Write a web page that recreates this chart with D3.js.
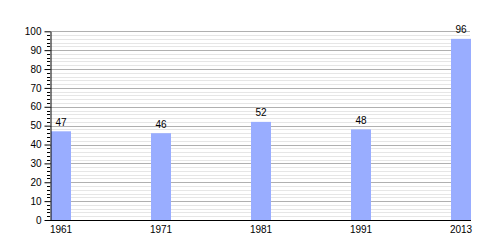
<!DOCTYPE html>
<html><head><meta charset="utf-8">
<script src="https://cdn.jsdelivr.net/npm/d3@7"></script>
<style>body{margin:0;background:#fff;} svg{display:block;font-family:"Liberation Sans",Arial,sans-serif;}</style>
</head><body>
<script>
const categories = ["1961","1971","1981","1991","2013"];
const values = [47,46,52,48,96];
const yTicks = [0,10,20,30,40,50,60,70,80,90,100];

const W=500,H=250;
const svg=d3.select("body").append("svg").attr("width",W).attr("height",H);
const x=d3.scaleBand().domain(categories).range([50,470]).paddingInner(0.8).paddingOuter(0);
const y=d3.scaleLinear().domain([0,100]).range([220,31.3]);

const minor=d3.range(0,101,2).filter(v=>v%10!==0);
svg.append("g").selectAll("line").data(minor).join("line")
 .attr("x1",50).attr("x2",470).attr("y1",d=>Math.round(y(d))+0.5).attr("y2",d=>Math.round(y(d))+0.5)
 .attr("stroke","#e6e6e6").attr("stroke-width",1);
svg.append("g").selectAll("line").data(yTicks.filter(v=>v>0)).join("line")
 .attr("x1",50).attr("x2",470).attr("y1",d=>Math.round(y(d))+0.5).attr("y2",d=>Math.round(y(d))+0.5)
 .attr("stroke","#b0b0b0").attr("stroke-width",1);

svg.append("g").selectAll("rect").data(values).join("rect")
 .attr("x",(d,i)=>x(categories[i])+1).attr("width",x.bandwidth())
 .attr("y",d=>y(d)).attr("height",d=>220-y(d)).attr("fill","#99adff");

svg.append("g").selectAll("text").data(values).join("text")
 .attr("x",(d,i)=>x(categories[i])+1+x.bandwidth()/2).attr("y",d=>y(d)-5.5)
 .attr("text-anchor","middle").attr("font-size",10).attr("fill","#000").text(d=>d);

// y axis
const ya=svg.append("g").attr("transform","translate(50.5,0)")
 .call(d3.axisLeft(y).tickValues(yTicks).tickSize(6).tickPadding(3).tickSizeOuter(0));
ya.selectAll("text").attr("font-size",10).attr("fill","#000").attr("font-family","Liberation Sans,Arial,sans-serif");
ya.selectAll("line,path").attr("stroke","#000");
svg.append("g").selectAll("line").data(minor).join("line")
 .attr("x1",47).attr("x2",50).attr("y1",d=>Math.round(y(d))+0.5).attr("y2",d=>Math.round(y(d))+0.5)
 .attr("stroke","#000");

// x axis
const xa=svg.append("g").attr("transform","translate(1,220.5)")
 .call(d3.axisBottom(x).tickSize(0).tickPadding(5));
xa.select("path").attr("stroke","#000").attr("d","M49,0H470");
xa.selectAll("text").attr("font-size",10).attr("fill","#000").attr("font-family","Liberation Sans,Arial,sans-serif");
</script>
</body></html>
